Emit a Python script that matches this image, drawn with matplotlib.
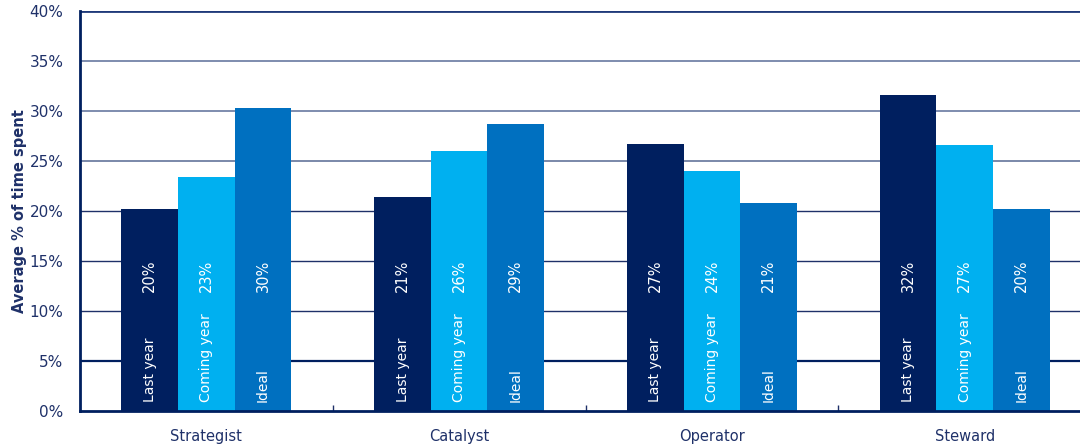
import numpy as np
import matplotlib.pyplot as plt

# average share of time spent per role
roles = ['Strategist', 'Catalyst', 'Operator', 'Steward']
series = ['Last year', 'Coming year', 'Ideal']
last_year = [20.2, 21.4, 26.7, 31.6]
coming_year = [23.4, 26.0, 24.0, 26.6]
ideal = [30.3, 28.7, 20.8, 20.2]
colors = ['#001f5f', '#00b0f0', '#0070c0']

navy = '#1f3169'
plt.rcParams['font.family'] = ['DejaVu Sans']

fig = plt.figure(figsize=(10.8, 4.46), dpi=100)
ax = fig.add_axes([80 / 1080, 35 / 446, 1011 / 1080, 400 / 446])

x = np.arange(len(roles))
w = 0.224
for i, (name, vals, c) in enumerate(zip(series, [last_year, coming_year, ideal], colors)):
    xs = x + (i - 1) * w
    ax.bar(xs, vals, width=w, color=c, zorder=3)
    for xi, v in zip(xs, vals):
        ax.text(xi, 11.9, f'{v:.0f}%', rotation=90, ha='center', va='bottom',
                color='white', fontsize=10.5, zorder=4)
        ax.text(xi, 0.9, name, rotation=90, ha='center', va='bottom',
                color='white', fontsize=10, zorder=4)

ax.set_xlim(-0.5, len(roles) - 0.5)
ax.set_ylim(0, 40)
ax.set_yticks(np.arange(0, 41, 5))
ax.set_yticklabels([f'{t}%' for t in range(0, 41, 5)])

# horizontal gridlines, lighter towards the top
grid_cols = {5: ('#001f5f', 1.6), 10: ('#1f3169', 1.0), 15: ('#1f3169', 1.0),
             20: ('#1f3169', 1.0), 25: ('#6f7fa3', 1.3), 30: ('#7484a8', 1.3),
             35: ('#7484a8', 1.3), 40: ('#1f3a7a', 2.0)}
for y, (c, lw) in grid_cols.items():
    ax.axhline(y, color=c, lw=lw, zorder=1)

for s in ['top', 'right']:
    ax.spines[s].set_visible(False)
for s in ['left', 'bottom']:
    ax.spines[s].set_color('#001f5f')
    ax.spines[s].set_linewidth(2)
    ax.spines[s].set_zorder(5)

ax.set_xticks(x)
ax.set_xticklabels(roles)
ax.set_xticks(np.arange(0.5, len(roles) - 1, 1), minor=True)
ax.tick_params(axis='x', which='major', length=0, pad=13, labelsize=10.5, labelcolor=navy)
ax.tick_params(axis='x', which='minor', direction='in', length=4, color='#1f3169', width=1)
ax.tick_params(axis='y', length=0, pad=12, labelsize=11, labelcolor=navy)

ax.set_ylabel('Average % of time spent', fontsize=10.5, fontweight='bold', color=navy, labelpad=2)

fig.savefig('out.png', dpi=100)
